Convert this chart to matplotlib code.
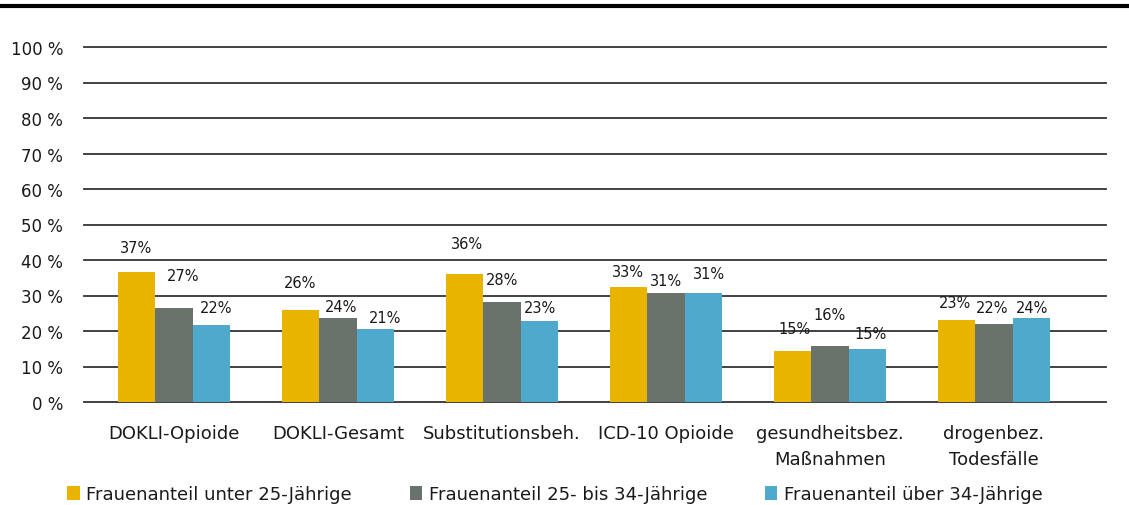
import matplotlib
matplotlib.use("Agg")
import matplotlib.pyplot as plt
from matplotlib.patches import Patch
from matplotlib.lines import Line2D
import numpy as np

categories = ["DOKLI-Opioide", "DOKLI-Gesamt", "Substitutionsbeh.", "ICD-10 Opioide",
              "gesundheitsbez.\nMaßnahmen", "drogenbez.\nTodesfälle"]
series_names = ["Frauenanteil unter 25-Jährige", "Frauenanteil 25- bis 34-Jährige",
                "Frauenanteil über 34-Jährige"]
under25 = [36.6, 25.9, 36.0, 32.4, 14.5, 23.1]
age25_34 = [26.5, 23.7, 28.2, 30.6, 15.8, 22.0]
over34 = [21.7, 20.6, 22.9, 30.8, 14.9, 23.7]
labels_under25 = ["37%", "26%", "36%", "33%", "15%", "23%"]
labels_25_34 = ["27%", "24%", "28%", "31%", "16%", "22%"]
labels_over34 = ["22%", "21%", "23%", "31%", "15%", "24%"]
yticks = [0, 10, 20, 30, 40, 50, 60, 70, 80, 90, 100]
ytick_labels = [f"{v} %" for v in yticks]

colors = ["#E8B400", "#69736B", "#4FA9CC"]
# label offsets (dx px, dy px) for layout only
offsets = [
    [(0, 25), (0, 28), (3, 31), (0, 15), (2, 22), (-1, 17)],
    [(9, 32), (3, 11), (0, 22), (0, 13), (0, 31), (-2, 16)],
    [(5, 17), (9, 11), (0, 13), (5, 19), (3, 16), (0, 10)],
]

plt.rcParams['font.family'] = ['DejaVu Sans']
fig = plt.figure(figsize=(11.29, 5.06), dpi=100)
W, H = 1129, 506
ax = fig.add_axes([84 / W, 1 - 403 / H, (1106 - 84) / W, (403 - 48) / H])

a_px, b_px = 174.0, 164.0
ax.set_xlim((84 - a_px) / b_px, (1106 - a_px) / b_px)
ax.set_ylim(0, 100)
x = np.arange(len(categories))
bw = 37.6 / b_px
data = [under25, age25_34, over34]
labs = [labels_under25, labels_25_34, labels_over34]

for g in yticks:
    ax.axhline(g, color="#333333", lw=1.3, zorder=1, clip_on=False)

for s in range(3):
    xs = x + (s - 1) * bw
    ax.bar(xs, data[s], width=bw, color=colors[s], zorder=2, linewidth=0)
    for i in range(len(categories)):
        dx, dy = offsets[s][i]
        ax.annotate(labs[s][i], (xs[i], data[s][i]), xytext=(dx * 0.72, dy * 0.72),
                    textcoords="offset points", ha="center", va="center",
                    fontsize=10.5, color="#1a1a1a")

for sp in ax.spines.values():
    sp.set_visible(False)
ax.set_yticks(yticks)
ax.set_yticklabels(ytick_labels, fontsize=12, color="#1a1a1a")
ax.tick_params(axis="y", length=0, pad=15)
ax.set_xticks(x)
ax.set_xticklabels(categories, fontsize=13, color="#1a1a1a", linespacing=1.55)
ax.tick_params(axis="x", length=0, pad=16)

# top thick line
fig.add_artist(Line2D([0, 1], [1 - 7 / H, 1 - 7 / H], color="black", lw=3,
                      transform=fig.transFigure))

handles = [Patch(facecolor=c, edgecolor="none") for c in colors]
fig.legend(handles, series_names, loc="center left", bbox_to_anchor=(51 / W, 1 - 495 / H),
           ncol=3, frameon=False, fontsize=13, handlelength=0.7, handleheight=0.8,
           handletextpad=0.35, columnspacing=3.2, labelcolor="#1a1a1a")

fig.savefig("out.png", dpi=100)
